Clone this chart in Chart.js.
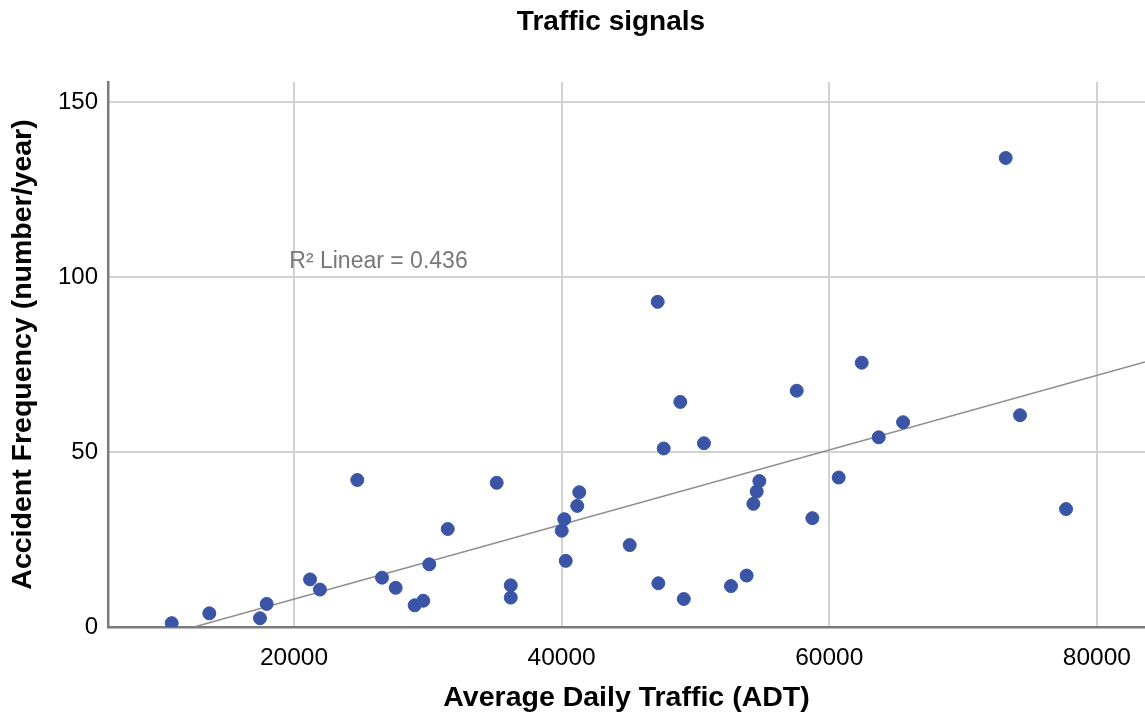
<!DOCTYPE html>
<html>
<head>
<meta charset="utf-8">
<script src="https://cdn.jsdelivr.net/npm/chart.js@4/dist/chart.umd.min.js"></script>
<style>
  html, body { margin: 0; padding: 0; background: #fff; }
  #wrap { width: 1145px; height: 718px; }
</style>
</head>
<body>
<div id="wrap"><canvas id="chart"></canvas></div>
<script>
// Average daily traffic (x) and accidents per year (y)
const adt = [10860, 13670, 17460, 17960, 21200, 21940, 24730, 26580, 27600, 29020,
  29660, 30110, 31490, 35150, 36200, 36200, 40200, 40010, 40310, 41320,
  41170, 45090, 47180, 47230, 47630, 49130, 48870, 50640, 52660, 53830,
  54330, 54580, 54780, 57570, 58740, 60710, 62430, 63700, 65520, 73190,
  74260, 77700];
const accidents = [1.1, 3.9, 2.5, 6.6, 13.6, 10.7, 42, 14.1, 11.2, 6.2,
  7.5, 17.9, 28, 41.2, 11.9, 8.4, 30.8, 27.5, 18.9, 38.5,
  34.6, 23.4, 92.9, 12.5, 51.0, 8.0, 64.3, 52.5, 11.7, 14.7,
  35.2, 38.7, 41.7, 67.5, 31.1, 42.7, 75.5, 54.2, 58.5, 134.0,
  60.5, 33.7];

// fit line ends
const fitX = [12530, 83600];
const fitY = [0, 75.7];

const xTicks = [20000, 40000, 60000, 80000];
const yTicks = [0, 50, 100, 150];
const chartTitle = "Traffic signals";
const rSquared = "0.436";

const font = "'Liberation Sans', Arial, sans-serif";

// title sits a bit left of the plot centre, plus the R² note
const labels = {
  id: "labels",
  afterDraw(chart) {
    const { ctx, scales } = chart;
    ctx.save();
    ctx.fillStyle = "#000";
    ctx.font = "bold 28px " + font;
    ctx.textAlign = "center";
    ctx.textBaseline = "middle";
    ctx.fillText(chartTitle, 611, 22);

    ctx.fillStyle = "#777777";
    ctx.font = "23px " + font;
    ctx.textAlign = "left";
    ctx.textBaseline = "alphabetic";
    const x = scales.x.getPixelForValue(19650);
    const y = scales.y.getPixelForValue(102.5);
    ctx.fillText("R² Linear = " + rSquared, x, y);
    ctx.restore();
  }
};

new Chart(document.getElementById("chart"), {
  type: "scatter",
  data: {
    datasets: [
      {
        label: "points",
        data: adt.map((v, i) => ({ x: v, y: accidents[i] })),
        backgroundColor: "#3a55a5",
        borderColor: "#3a55a5",
        pointRadius: 6.5,
        pointHoverRadius: 6.5,
        order: 1
      },
      {
        label: "fit",
        data: fitX.map((v, i) => ({ x: v, y: fitY[i] })),
        showLine: true,
        borderColor: "#8e8e8e",
        borderWidth: 1.5,
        pointRadius: 0,
        order: 2
      }
    ]
  },
  options: {
    responsive: true,
    maintainAspectRatio: false,
    animation: false,
    layout: { autoPadding: false, padding: { top: 82, right: 0, bottom: 0, left: 0 } },
    plugins: {
      legend: { display: false },
      tooltip: { enabled: false },
      title: { display: false }
    },
    scales: {
      x: {
        type: "linear",
        min: 6100,
        max: 83600,
        afterBuildTicks: s => { s.ticks = xTicks.map(v => ({ value: v })); },
        afterFit: s => { s.height = 91; s.paddingLeft = 0; s.paddingRight = 0; },
        grid: { color: "#d2d2d2", lineWidth: 2, drawTicks: false },
        border: { color: "#7a7a7a", width: 2.5 },
        ticks: {
          color: "#000",
          padding: 17,
          maxRotation: 0,
          font: { family: font, size: 24.5 },
          callback: v => String(v)
        },
        title: {
          display: true,
          text: "Average Daily Traffic (ADT)",
          color: "#000",
          font: { family: font, size: 28.5, weight: "bold" },
          padding: { top: 0, bottom: 3 }
        }
      },
      y: {
        type: "linear",
        min: 0,
        max: 155.7,
        afterBuildTicks: s => { s.ticks = yTicks.map(v => ({ value: v })); },
        afterFit: s => { s.width = 108; s.paddingTop = 0; s.paddingBottom = 0; },
        grid: { color: "#d2d2d2", lineWidth: 2, drawTicks: false },
        border: { color: "#7a7a7a", width: 2.5 },
        ticks: {
          color: "#000",
          padding: 10,
          font: { family: font, size: 24 },
          callback: v => String(v)
        },
        title: {
          display: true,
          text: "Accident Frequency (number/year)",
          color: "#000",
          font: { family: font, size: 28.5, weight: "bold" },
          padding: { top: 6, bottom: 0 }
        }
      }
    }
  },
  plugins: [labels]
});
</script>
</body>
</html>
